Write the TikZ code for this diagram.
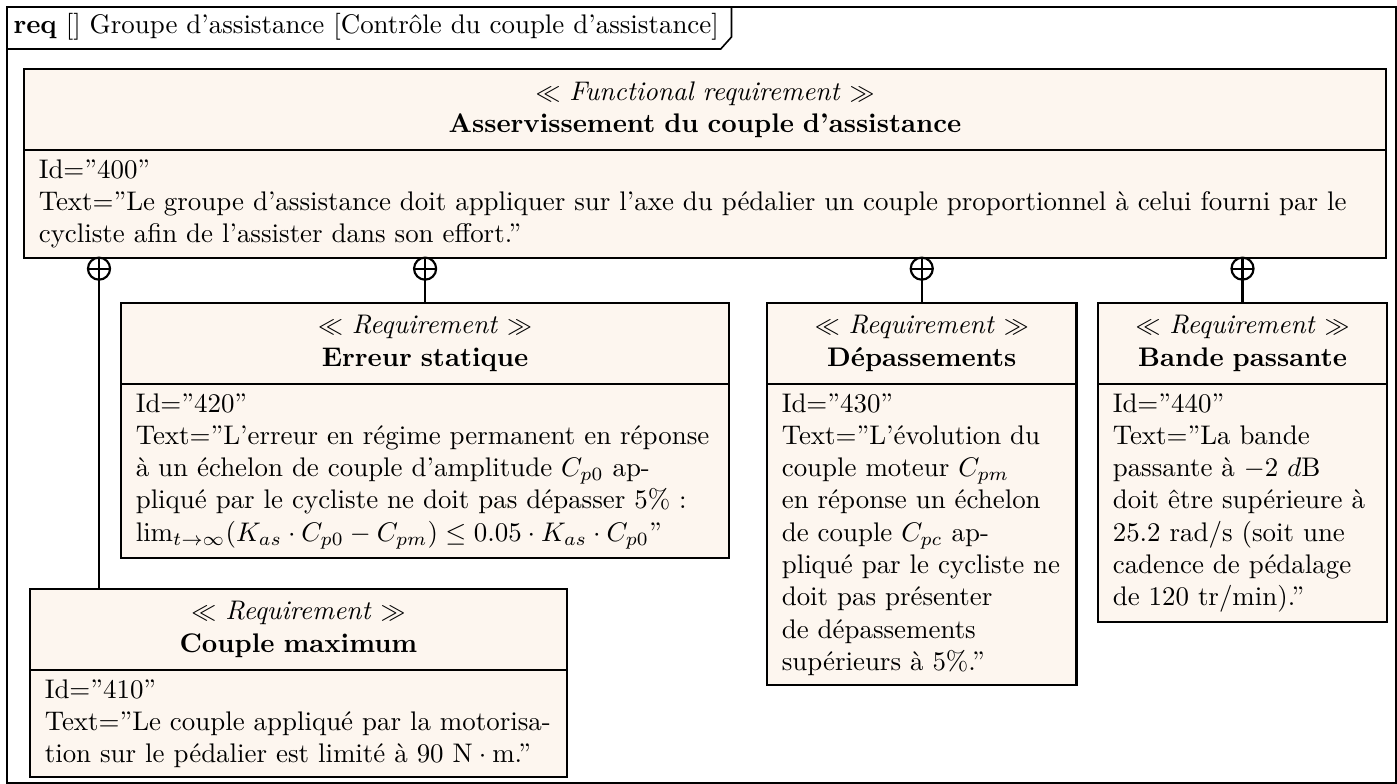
\documentclass[tikz,border=0pt]{standalone}
\usepackage{amsmath,amssymb}
\usetikzlibrary{positioning}
\definecolor{reqfill}{RGB}{253,246,239}

\begin{document}
\begin{tikzpicture}[x=0.3716pt,y=-0.3716pt,
  reqhead/.style={draw,fill=reqfill,line width=0.8pt,outer sep=0pt,align=center,anchor=north west,minimum height=30.1pt,inner xsep=5.5pt,text width=#1},
  reqbody/.style={draw,fill=reqfill,line width=0.8pt,outer sep=0pt,align=left,inner xsep=5.5pt,inner ysep=3.5pt,text width=#1},
  oplus/.style={circle,draw,fill=white,line width=0.8pt,outer sep=0pt,minimum size=8.2pt,inner sep=0pt,anchor=north,
    path picture={\draw (path picture bounding box.north) -- (path picture bounding box.south)
      (path picture bounding box.west) -- (path picture bounding box.east);}},
  conn/.style={line width=0.8pt}]
  \newcommand{\stereo}[1]{{\small$\ll$} \textit{#1} {\small$\gg$}}
  \useasboundingbox (0,0) rectangle (1397,784);
  % cadre du diagramme
  \draw[line width=0.6pt] (7,7) rectangle (1396,783);
  \node[anchor=west,inner sep=0pt] (hdr) at (13,27) {\textbf{req} [] Groupe d'assistance [Contrôle du couple d'assistance]};
  \draw[line width=0.6pt] (7,49) -- ([xshift=0.5pt]hdr.east |- 0,49) -- ([xshift=4.5pt]hdr.east |- 0,37) -- ([xshift=4.5pt]hdr.east |- 0,7);
  % exigence principale
  \node[reqhead=495.1pt] (top) at (24,69) {\stereo{Functional requirement}\\ \textbf{Asservissement du couple d'assistance}};
  \node[reqbody=495.1pt,below=0pt of top] (toptxt) {Id=''400''\\
    Text=''Le groupe d'assistance doit appliquer sur l'axe du pédalier un couple proportionnel à celui fourni par le\\
    cycliste afin de l'assister dans son effort.''};
  % sous-exigences
  \node[reqhead=215pt] (erreur) at (121,303) {\stereo{Requirement}\\ \textbf{Erreur statique}};
  \node[reqbody=215pt,below=0pt of erreur] (erreurtxt) {Id=''420''\\
    Text=''L'erreur en régime permanent en réponse\\
    à un échelon de couple d'amplitude $C_{p0}$ ap-\\
    pliqué par le cycliste ne doit pas dépasser 5\% :\\
    $\lim_{t\to\infty}(K_{as}\cdot C_{p0}-C_{pm})\leq 0.05\cdot K_{as}\cdot C_{p0}$''};
  \node[reqhead=104pt] (depass) at (767,303) {\stereo{Requirement}\\ \textbf{Dépassements}};
  \node[reqbody=104pt,below=0pt of depass] (depasstxt) {Id=''430''\\
    Text=''L'évolution du\\
    couple moteur $C_{pm}$\\
    en réponse un échelon\\
    de couple $C_{pc}$ ap-\\
    pliqué par le cycliste ne\\
    doit pas présenter\\
    de dépassements\\
    supérieurs à 5\%.''};
  \node[reqhead=96.4pt] (bande) at (1098,303) {\stereo{Requirement}\\ \textbf{Bande passante}};
  \node[reqbody=96.4pt,below=0pt of bande] (bandetxt) {Id=''440''\\
    Text=''La bande\\
    passante à $-2\ d$B\\
    doit être supérieure à\\
    25.2 rad/s (soit une\\
    cadence de pédalage\\
    de 120 tr/min).''};
  \node[reqhead=188.5pt] (couple) at (30,589) {\stereo{Requirement}\\ \textbf{Couple maximum}};
  \node[reqbody=188.5pt,below=0pt of couple] (coupletxt) {Id=''410''\\
    Text=''Le couple appliqué par la motorisa-\\
    tion sur le pédalier est limité à 90 $\mathrm{N}\cdot\mathrm{m}$.''};
  % liens de composition
  \coordinate (k1) at (99,0);
  \node[oplus] (c1) at (k1 |- toptxt.south) {};
  \node[oplus] (c2) at (erreur.north |- toptxt.south) {};
  \node[oplus] (c3) at (depass.north |- toptxt.south) {};
  \node[oplus] (c4) at (bande.north |- toptxt.south) {};
  \draw[conn] (c1) -- (c1 |- couple.north);
  \draw[conn] (c2) -- (erreur);
  \draw[conn] (c3) -- (depass);
  \draw[conn] (c4) -- (bande);
\end{tikzpicture}
\end{document}
